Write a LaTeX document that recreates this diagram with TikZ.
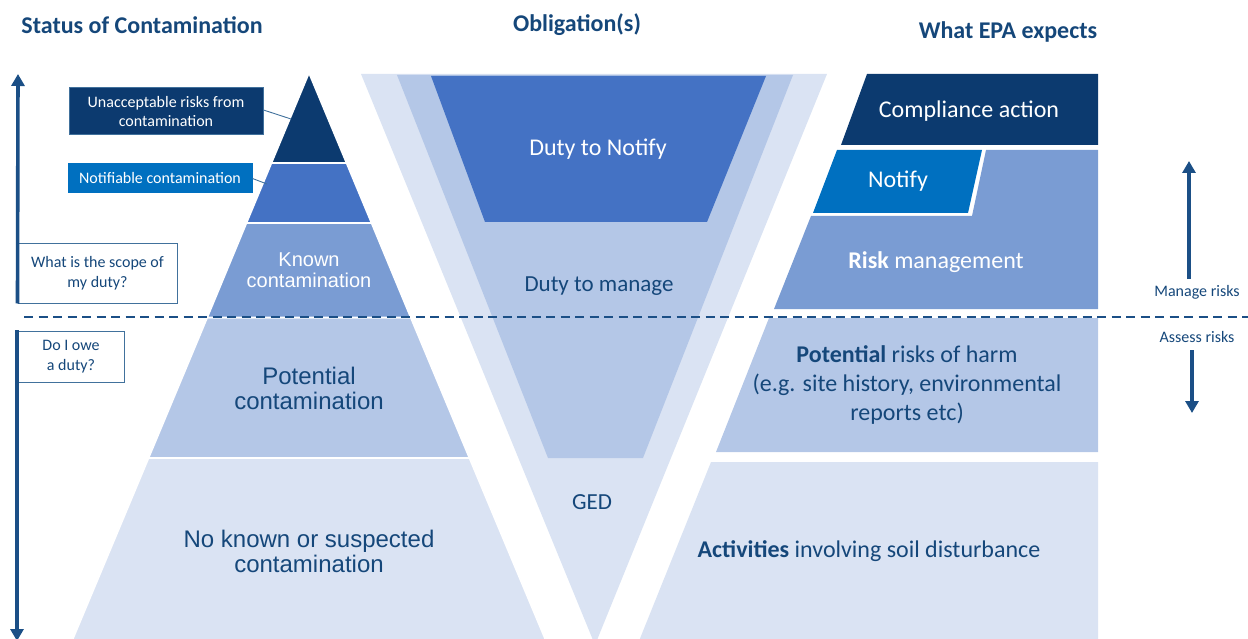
\documentclass[tikz,border=0pt]{standalone}
\usepackage{fontspec}
\setmainfont{Carlito}
\newfontfamily\arialf{Liberation Sans}
\usetikzlibrary{arrows.meta}
\definecolor{navyA}{HTML}{0C3A6F}
\definecolor{blueB}{HTML}{4472C4}
\definecolor{blueC}{HTML}{7A9CD3}
\definecolor{blueD}{HTML}{B4C7E7}
\definecolor{blueE}{HTML}{DAE3F3}
\definecolor{brightB}{HTML}{0070C0}
\definecolor{txtN}{HTML}{15477A}
\definecolor{lineN}{HTML}{1B4F86}
\definecolor{edgeS}{HTML}{41719C}
\newcommand\fsz[2]{\fontsize{#1}{#2}\selectfont}
\tikzset{
  tier/.style={draw=white, line width=1.6pt},
  lbl/.style={inner sep=0pt, align=center},
  hdr/.style={inner sep=0pt, text=txtN, font=\fsz{24}{28}\bfseries},
  sidebox/.style={draw=edgeS, line width=1pt},
  bigarrow/.style={draw=lineN, line width=3.6pt, -{Triangle[length=12pt,width=13pt]}},
  leader/.style={draw=edgeS, line width=0.9pt},
}
\begin{document}
\begin{tikzpicture}[x=1pt,y=-1pt]
\useasboundingbox (0,0) rectangle (1248,639);
% headers
\node[hdr] (h1) at (142,25) {Status of Contamination};
\node[hdr] (h2) at (577,25) {Obligation(s)};
\node[hdr] (h3) at (1008,32) {What EPA expects};

% pyramid
\fill[blueE, tier] (148.6,458) -- (469.4,458) -- (546,641) -- (72,641) -- cycle;
\fill[blueD, tier] (207.3,317.5) -- (410.7,317.5) -- (469.4,458) -- (148.6,458) -- cycle;
\fill[blueC, tier] (246.5,223) -- (371.5,223) -- (410.7,317.5) -- (207.3,317.5) -- cycle;
\fill[blueB, tier] (271.5,163) -- (346.5,163) -- (371.5,223) -- (246.5,223) -- cycle;
\fill[navyA, tier] (309,73) -- (346.5,163) -- (271.5,163) -- cycle;

\node[lbl, text=white, font=\arialf\fsz{20}{21}] (known) at (309,270) {Known\\contamination};
\node[lbl, text=txtN, font=\arialf\fsz{24}{25}] (pot) at (309,388) {Potential\\contamination};
\node[lbl, text=txtN, font=\arialf\fsz{24}{25}] (nokn) at (309,551) {No known or suspected\\contamination};

% V
\fill[blueE] (361,74) -- (827,74) -- (595,645) -- cycle;
\fill[blueD] (397,75) -- (793,75) -- (643,458) -- (548,458) -- cycle;
\fill[blueB] (431,76) -- (766,76) -- (707,222) -- (485,222) -- cycle;
\node[lbl, text=white, font=\fsz{24}{29}] (dtn) at (598,149) {Duty to Notify};
\node[lbl, text=txtN, font=\fsz{23}{28}] (dtm) at (599,286) {Duty to manage};
\node[lbl, text=txtN, font=\fsz{23}{28}] (ged) at (592,502) {GED};

% right side
\fill[navyA] (867,74) -- (1098,74) -- (1098,145) -- (841,145) -- cycle;
\fill[brightB] (837,150) -- (982,150) -- (968,213) -- (813,213) -- cycle;
\fill[blueC] (986,150) -- (1098,150) -- (1098,309) -- (774,309) -- (811,216) -- (972,216) -- cycle;
\fill[blueD] (769,318) -- (1098,318) -- (1098,452) -- (716,452) -- cycle;
\fill[blueE] (711,462) -- (1098,462) -- (1098,641) -- (639,641) -- cycle;
\node[lbl, text=white, font=\fsz{24}{29}] (comp) at (969,111) {Compliance action};
\node[lbl, text=white, font=\fsz{24}{29}] (notif) at (898,181) {Notify};
\node[lbl, text=white, font=\fsz{24}{29}] (riskm) at (936,262) {\textbf{Risk} management};
\node[lbl, text=txtN, font=\fsz{24}{29}] (potr) at (907,385) {\textbf{Potential} risks of harm\\(e.g. site history, environmental\\reports etc)};
\node[lbl, text=txtN, font=\fsz{24}{29}] (act) at (869,551) {\textbf{Activities} involving soil disturbance};

% left label boxes
\node[sidebox, fill=navyA, minimum width=194pt, minimum height=47pt, inner sep=0pt, text=white, align=center, font=\fsz{16}{19}] (unacc) at (166,111.5) {Unacceptable risks from\\contamination};
\node[sidebox, draw=brightB, fill=brightB, minimum width=184pt, minimum height=29pt, inner sep=0pt, text=white, font=\fsz{16}{19}] (notc) at (160,178.5) {Notifiable contamination};
\coordinate (pu) at (291,119);
\coordinate (pn) at (267,184);
\draw[leader] (unacc.east |- 0,110) -- (pu);
\draw[leader] (notc.east) -- (pn);

\node[sidebox, fill=white, minimum width=159pt, minimum height=59pt, inner sep=0pt, text=txtN, align=center, font=\fsz{16}{20}] (scope) at (97.5,273.5) {What is the scope of\\my duty?};
\node[sidebox, fill=white, minimum width=106pt, minimum height=51pt, inner sep=0pt, text=txtN, align=center, font=\fsz{16}{20}] (owe) at (71,356.5) {Do I owe\\a duty?};

\coordinate (uptip) at (18,74);
\coordinate (downtip) at (17,641);
\draw[bigarrow] (scope.south west) -- (uptip);
\draw[bigarrow] (17,330) -- (downtip);

% dashed divider
\coordinate (dl) at (24,317);
\coordinate (dr) at (1248,317);
\draw[lineN, line width=2pt, dash pattern=on 9pt off 5.5pt] (dl) -- (dr);

% right arrows
\node[lbl, text=txtN, font=\fsz{16}{19}] (mng) at (1197,292) {Manage risks};
\node[lbl, text=txtN, font=\fsz{16}{19}] (ass) at (1197,337) {Assess risks};
\coordinate (mtip) at (1189,161);
\coordinate (atip) at (1192,413);
\draw[bigarrow] (1189,279) -- (mtip);
\draw[bigarrow] (1192,350) -- (atip);
\end{tikzpicture}
\end{document}
